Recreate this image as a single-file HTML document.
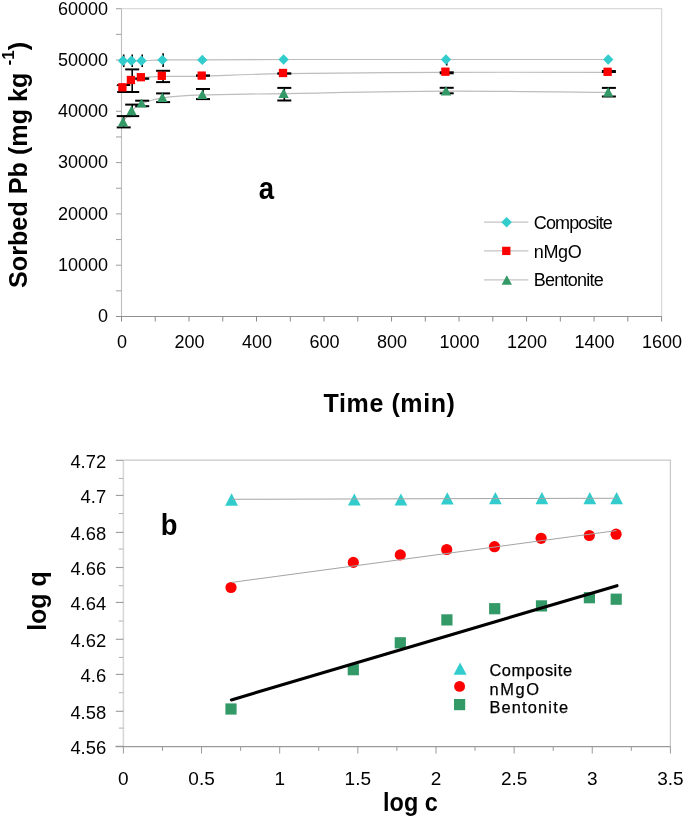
<!DOCTYPE html>
<html><head><meta charset="utf-8"><title>Sorption charts</title>
<style>
html,body{margin:0;padding:0;background:#fff;}
body{width:685px;height:818px;overflow:hidden;}
svg{display:block;}
text{font-family:"Liberation Sans", sans-serif;fill:#000;}
svg{will-change:transform;}
</style></head>
<body>
<svg width="685" height="818" viewBox="0 0 685 818" font-family='"Liberation Sans", sans-serif'>
<rect width="685" height="818" fill="#fff"/>
<path d="M121.5 8.7H661.6V316.5" fill="none" stroke="#d9d9d9" stroke-width="1.3"/>
<path d="M121.5 8.7V316.5" stroke="#bdbdbd" stroke-width="1.1"/>
<path d="M116 316.5H121.5" stroke="#a0a0a0" stroke-width="1"/>
<path d="M116 290.85H121.5" stroke="#a0a0a0" stroke-width="1"/>
<path d="M116 265.2H121.5" stroke="#a0a0a0" stroke-width="1"/>
<path d="M116 239.55H121.5" stroke="#a0a0a0" stroke-width="1"/>
<path d="M116 213.9H121.5" stroke="#a0a0a0" stroke-width="1"/>
<path d="M116 188.25H121.5" stroke="#a0a0a0" stroke-width="1"/>
<path d="M116 162.6H121.5" stroke="#a0a0a0" stroke-width="1"/>
<path d="M116 136.95H121.5" stroke="#a0a0a0" stroke-width="1"/>
<path d="M116 111.3H121.5" stroke="#a0a0a0" stroke-width="1"/>
<path d="M116 85.65H121.5" stroke="#a0a0a0" stroke-width="1"/>
<path d="M116 60H121.5" stroke="#a0a0a0" stroke-width="1"/>
<path d="M116 34.35H121.5" stroke="#a0a0a0" stroke-width="1"/>
<path d="M116 8.7H121.5" stroke="#a0a0a0" stroke-width="1"/>
<path d="M116 316.5H661.6" stroke="#909090" stroke-width="1"/>
<path d="M121.5 316.5V321.5" stroke="#8a8a8a" stroke-width="1"/>
<path d="M155.26 316.5V321.5" stroke="#8a8a8a" stroke-width="1"/>
<path d="M189.01 316.5V321.5" stroke="#8a8a8a" stroke-width="1"/>
<path d="M222.77 316.5V321.5" stroke="#8a8a8a" stroke-width="1"/>
<path d="M256.52 316.5V321.5" stroke="#8a8a8a" stroke-width="1"/>
<path d="M290.28 316.5V321.5" stroke="#8a8a8a" stroke-width="1"/>
<path d="M324.04 316.5V321.5" stroke="#8a8a8a" stroke-width="1"/>
<path d="M357.79 316.5V321.5" stroke="#8a8a8a" stroke-width="1"/>
<path d="M391.55 316.5V321.5" stroke="#8a8a8a" stroke-width="1"/>
<path d="M425.31 316.5V321.5" stroke="#8a8a8a" stroke-width="1"/>
<path d="M459.06 316.5V321.5" stroke="#8a8a8a" stroke-width="1"/>
<path d="M492.82 316.5V321.5" stroke="#8a8a8a" stroke-width="1"/>
<path d="M526.58 316.5V321.5" stroke="#8a8a8a" stroke-width="1"/>
<path d="M560.33 316.5V321.5" stroke="#8a8a8a" stroke-width="1"/>
<path d="M594.09 316.5V321.5" stroke="#8a8a8a" stroke-width="1"/>
<path d="M627.84 316.5V321.5" stroke="#8a8a8a" stroke-width="1"/>
<path d="M661.6 316.5V321.5" stroke="#8a8a8a" stroke-width="1"/>
<text x="108" y="322.3" font-size="18" text-anchor="end">0</text>
<text x="108" y="271" font-size="18" text-anchor="end">10000</text>
<text x="108" y="219.7" font-size="18" text-anchor="end">20000</text>
<text x="108" y="168.4" font-size="18" text-anchor="end">30000</text>
<text x="108" y="117.1" font-size="18" text-anchor="end">40000</text>
<text x="108" y="65.8" font-size="18" text-anchor="end">50000</text>
<text x="108" y="14.5" font-size="18" text-anchor="end">60000</text>
<text x="122" y="348.3" font-size="18" text-anchor="middle">0</text>
<text x="189.51" y="348.3" font-size="18" text-anchor="middle">200</text>
<text x="257.02" y="348.3" font-size="18" text-anchor="middle">400</text>
<text x="324.54" y="348.3" font-size="18" text-anchor="middle">600</text>
<text x="392.05" y="348.3" font-size="18" text-anchor="middle">800</text>
<text x="459.56" y="348.3" font-size="18" text-anchor="middle">1000</text>
<text x="527.08" y="348.3" font-size="18" text-anchor="middle">1200</text>
<text x="594.59" y="348.3" font-size="18" text-anchor="middle">1400</text>
<text x="662.1" y="348.3" font-size="18" text-anchor="middle">1600</text>
<text x="323.6" y="412" font-size="25" font-weight="bold" letter-spacing="0.6">Time (min)</text>
<text transform="translate(27.2 288) rotate(-90)" font-size="25.2" font-weight="bold">Sorbed Pb (mg kg <tspan font-size="17" dy="-13.5">-1</tspan><tspan dy="13.5">)</tspan></text>
<text transform="translate(258.7 199) scale(0.9 1)" font-size="30.6" font-weight="bold">a</text>
<path d="M123 60.8C124.42 60.8 128.42 60.8 131.5 60.8C134.58 60.8 136.35 60.95 141.5 60.8C146.65 60.65 152.27 60.05 162.4 59.9C172.53 59.75 182.1 59.97 202.3 59.9C222.5 59.83 242.98 59.57 283.6 59.5C324.22 59.43 391.9 59.5 446 59.5C500.1 59.5 581.17 59.5 608.2 59.5" fill="none" stroke="#bdbdbd" stroke-width="1.2"/>
<path d="M123 87.9C124.42 86.68 128.42 82.28 131.5 80.6C134.58 78.92 136.35 78.5 141.5 77.8C146.65 77.1 152.27 76.67 162.4 76.4C172.53 76.13 182.1 76.67 202.3 76.2C222.5 75.73 242.98 74.25 283.6 73.6C324.22 72.95 391.9 72.5 446 72.3C500.1 72.1 581.17 72.38 608.2 72.4" fill="none" stroke="#bdbdbd" stroke-width="1.2"/>
<path d="M123 122.1C124.42 120.22 128.42 113.88 131.5 110.8C134.58 107.73 136.35 105.82 141.5 103.65C146.65 101.48 152.27 99.26 162.4 97.8C172.53 96.34 182.1 95.6 202.3 94.9C222.5 94.2 242.98 94.22 283.6 93.6C324.22 92.98 391.9 91.39 446 91.2C500.1 91.01 581.17 92.24 608.2 92.45" fill="none" stroke="#bdbdbd" stroke-width="1.2"/>
<path d="M123.7 54.5V67" stroke="#000" stroke-width="1.6"/>
<path d="M132.2 54.5V67" stroke="#000" stroke-width="1.6"/>
<path d="M142.2 54.5V67" stroke="#000" stroke-width="1.6"/>
<path d="M163.1 53.3V67" stroke="#000" stroke-width="1.6"/>
<path d="M446.7 59V65.5" stroke="#000" stroke-width="1.6"/>
<path d="M117.2 85H130.2" stroke="#000" stroke-width="2"/>
<path d="M117.2 92H130.2" stroke="#000" stroke-width="2"/>
<path d="M123.7 85V92" stroke="#000" stroke-width="1.6"/>
<path d="M125.2 69.4H139.2" stroke="#000" stroke-width="2"/>
<path d="M125.2 92H139.2" stroke="#000" stroke-width="2"/>
<path d="M132.2 69.4V92" stroke="#000" stroke-width="1.6"/>
<path d="M135.2 78.6H149.2" stroke="#000" stroke-width="2.4"/>
<path d="M156.1 70.8H170.1" stroke="#000" stroke-width="2"/>
<path d="M156.1 82.1H170.1" stroke="#000" stroke-width="2"/>
<path d="M163.1 70.8V82.1" stroke="#000" stroke-width="1.6"/>
<path d="M196 75.6H210" stroke="#000" stroke-width="2.4"/>
<path d="M277.3 73.5H291.3" stroke="#000" stroke-width="2.4"/>
<path d="M439.7 72.8H453.7" stroke="#000" stroke-width="3"/>
<path d="M601.9 71.5H615.9" stroke="#000" stroke-width="3"/>
<path d="M116.7 116.1H130.7" stroke="#000" stroke-width="2"/>
<path d="M116.7 127.4H130.7" stroke="#000" stroke-width="2"/>
<path d="M123.7 116.1V127.4" stroke="#000" stroke-width="1.6"/>
<path d="M125.2 104.6H139.2" stroke="#000" stroke-width="2"/>
<path d="M125.2 116.1H139.2" stroke="#000" stroke-width="2"/>
<path d="M132.2 104.6V116.1" stroke="#000" stroke-width="1.6"/>
<path d="M135.2 100.7H149.2" stroke="#000" stroke-width="2"/>
<path d="M135.2 106.2H149.2" stroke="#000" stroke-width="2"/>
<path d="M142.2 100.7V106.2" stroke="#000" stroke-width="1.6"/>
<path d="M156.1 93.4H170.1" stroke="#000" stroke-width="2"/>
<path d="M156.1 102.1H170.1" stroke="#000" stroke-width="2"/>
<path d="M163.1 93.4V102.1" stroke="#000" stroke-width="1.6"/>
<path d="M196 89H210" stroke="#000" stroke-width="2"/>
<path d="M196 99.1H210" stroke="#000" stroke-width="2"/>
<path d="M203 89V99.1" stroke="#000" stroke-width="1.6"/>
<path d="M277.3 87.9H291.3" stroke="#000" stroke-width="2"/>
<path d="M277.3 100.5H291.3" stroke="#000" stroke-width="2"/>
<path d="M284.3 87.9V100.5" stroke="#000" stroke-width="1.6"/>
<path d="M439.7 87.8H453.7" stroke="#000" stroke-width="2"/>
<path d="M439.7 93.3H453.7" stroke="#000" stroke-width="2"/>
<path d="M446.7 87.8V93.3" stroke="#000" stroke-width="1.6"/>
<path d="M601.9 87.9H615.9" stroke="#000" stroke-width="2"/>
<path d="M601.9 96.5H615.9" stroke="#000" stroke-width="2"/>
<path d="M608.9 87.9V96.5" stroke="#000" stroke-width="1.6"/>
<path d="M123 55.6L128.2 60.8L123 66L117.8 60.8Z" fill="#33cccc"/>
<path d="M131.5 55.6L136.7 60.8L131.5 66L126.3 60.8Z" fill="#33cccc"/>
<path d="M141.5 55.6L146.7 60.8L141.5 66L136.3 60.8Z" fill="#33cccc"/>
<path d="M162.4 54.7L167.6 59.9L162.4 65.1L157.2 59.9Z" fill="#33cccc"/>
<path d="M202.3 54.7L207.5 59.9L202.3 65.1L197.1 59.9Z" fill="#33cccc"/>
<path d="M283.6 54.3L288.8 59.5L283.6 64.7L278.4 59.5Z" fill="#33cccc"/>
<path d="M446 54.3L451.2 59.5L446 64.7L440.8 59.5Z" fill="#33cccc"/>
<path d="M608.2 54.3L613.4 59.5L608.2 64.7L603 59.5Z" fill="#33cccc"/>
<rect x="118.25" y="83.15" width="8.3" height="8.3" fill="#ff0000"/>
<rect x="126.75" y="75.85" width="8.3" height="8.3" fill="#ff0000"/>
<rect x="136.75" y="73.05" width="8.3" height="8.3" fill="#ff0000"/>
<rect x="157.65" y="71.65" width="8.3" height="8.3" fill="#ff0000"/>
<rect x="197.55" y="71.45" width="8.3" height="8.3" fill="#ff0000"/>
<rect x="278.85" y="68.85" width="8.3" height="8.3" fill="#ff0000"/>
<rect x="441.25" y="67.55" width="8.3" height="8.3" fill="#ff0000"/>
<rect x="603.45" y="67.65" width="8.3" height="8.3" fill="#ff0000"/>
<path d="M123 116.7L128.15 126.5L117.85 126.5Z" fill="#339966"/>
<path d="M131.5 105.4L136.65 115.2L126.35 115.2Z" fill="#339966"/>
<path d="M141.5 98.7L146.65 107.6L136.35 107.6Z" fill="#339966"/>
<path d="M162.4 92.5L167.55 102.1L157.25 102.1Z" fill="#339966"/>
<path d="M202.3 89.7L207.45 99.1L197.15 99.1Z" fill="#339966"/>
<path d="M283.6 88.3L288.75 97.9L278.45 97.9Z" fill="#339966"/>
<path d="M446 85.9L451.15 95.5L440.85 95.5Z" fill="#339966"/>
<path d="M608.2 87.1L613.35 96.8L603.05 96.8Z" fill="#339966"/>
<path d="M484 222.2H528.4" stroke="#c4c4c4" stroke-width="1.2"/>
<path d="M484 250.9H528.4" stroke="#c4c4c4" stroke-width="1.2"/>
<path d="M484 279.9H528.4" stroke="#c4c4c4" stroke-width="1.2"/>
<path d="M506.6 216.9L511.9 222.2L506.6 227.5L501.3 222.2Z" fill="#33cccc"/>
<rect x="502.15" y="246.75" width="8.3" height="8.3" fill="#ff0000"/>
<path d="M506.8 275.2L511.95 284.7L501.65 284.7Z" fill="#339966"/>
<text x="533.8" y="229" font-size="18" textLength="79" lengthAdjust="spacing">Composite</text>
<text x="533.8" y="258.3" font-size="18" textLength="48" lengthAdjust="spacing">nMgO</text>
<text x="533.8" y="286.1" font-size="18" textLength="70" lengthAdjust="spacing">Bentonite</text>
<path d="M123.4 460.2H670.4V746.6" fill="none" stroke="#c9c9c9" stroke-width="1.3"/>
<path d="M123.4 460.2V746.6" stroke="#d6d6d6" stroke-width="1.5"/>
<path d="M115.8 746.3H123.4" stroke="#9a9a9a" stroke-width="1.1"/>
<path d="M115.8 711.3H123.4" stroke="#9a9a9a" stroke-width="1.1"/>
<path d="M115.8 674.4H123.4" stroke="#9a9a9a" stroke-width="1.1"/>
<path d="M115.8 639.3H123.4" stroke="#9a9a9a" stroke-width="1.1"/>
<path d="M115.8 602.45H123.4" stroke="#9a9a9a" stroke-width="1.1"/>
<path d="M115.8 567.5H123.4" stroke="#9a9a9a" stroke-width="1.1"/>
<path d="M115.8 532.4H123.4" stroke="#9a9a9a" stroke-width="1.1"/>
<path d="M115.8 495.4H123.4" stroke="#9a9a9a" stroke-width="1.1"/>
<path d="M115.8 460.3H123.4" stroke="#9a9a9a" stroke-width="1.1"/>
<path d="M118.8 728.1H123.4" stroke="#b0b0b0" stroke-width="1"/>
<path d="M118.8 692.7H123.4" stroke="#b0b0b0" stroke-width="1"/>
<path d="M118.8 657.4H123.4" stroke="#b0b0b0" stroke-width="1"/>
<path d="M118.8 621H123.4" stroke="#b0b0b0" stroke-width="1"/>
<path d="M118.8 585.7H123.4" stroke="#b0b0b0" stroke-width="1"/>
<path d="M118.8 549H123.4" stroke="#b0b0b0" stroke-width="1"/>
<path d="M118.8 513.6H123.4" stroke="#b0b0b0" stroke-width="1"/>
<path d="M118.8 478.4H123.4" stroke="#b0b0b0" stroke-width="1"/>
<path d="M115.6 746.6H670.4" stroke="#9a9a9a" stroke-width="1.2"/>
<path d="M123.4 746.6V753.6" stroke="#9a9a9a" stroke-width="1"/>
<path d="M162.47 746.6V750.9" stroke="#9a9a9a" stroke-width="1"/>
<path d="M201.54 746.6V753.6" stroke="#9a9a9a" stroke-width="1"/>
<path d="M240.61 746.6V750.9" stroke="#9a9a9a" stroke-width="1"/>
<path d="M279.69 746.6V753.6" stroke="#9a9a9a" stroke-width="1"/>
<path d="M318.76 746.6V750.9" stroke="#9a9a9a" stroke-width="1"/>
<path d="M357.83 746.6V753.6" stroke="#9a9a9a" stroke-width="1"/>
<path d="M396.9 746.6V750.9" stroke="#9a9a9a" stroke-width="1"/>
<path d="M435.97 746.6V753.6" stroke="#9a9a9a" stroke-width="1"/>
<path d="M475.04 746.6V750.9" stroke="#9a9a9a" stroke-width="1"/>
<path d="M514.11 746.6V753.6" stroke="#9a9a9a" stroke-width="1"/>
<path d="M553.19 746.6V750.9" stroke="#9a9a9a" stroke-width="1"/>
<path d="M592.26 746.6V753.6" stroke="#9a9a9a" stroke-width="1"/>
<path d="M631.33 746.6V750.9" stroke="#9a9a9a" stroke-width="1"/>
<path d="M670.4 746.6V753.6" stroke="#9a9a9a" stroke-width="1"/>
<text x="106.2" y="753.7" font-size="18.4" text-anchor="end">4.56</text>
<text x="106.2" y="718.7" font-size="18.4" text-anchor="end">4.58</text>
<text x="106.2" y="681.8" font-size="18.4" text-anchor="end">4.6</text>
<text x="106.2" y="646.7" font-size="18.4" text-anchor="end">4.62</text>
<text x="106.2" y="609.85" font-size="18.4" text-anchor="end">4.64</text>
<text x="106.2" y="574.9" font-size="18.4" text-anchor="end">4.66</text>
<text x="106.2" y="539.8" font-size="18.4" text-anchor="end">4.68</text>
<text x="106.2" y="502.8" font-size="18.4" text-anchor="end">4.7</text>
<text x="106.2" y="467.7" font-size="18.4" text-anchor="end">4.72</text>
<text x="123.4" y="784.6" font-size="19" text-anchor="middle">0</text>
<text x="201.54" y="784.6" font-size="19" text-anchor="middle">0.5</text>
<text x="279.69" y="784.6" font-size="19" text-anchor="middle">1</text>
<text x="357.83" y="784.6" font-size="19" text-anchor="middle">1.5</text>
<text x="435.97" y="784.6" font-size="19" text-anchor="middle">2</text>
<text x="514.11" y="784.6" font-size="19" text-anchor="middle">2.5</text>
<text x="592.26" y="784.6" font-size="19" text-anchor="middle">3</text>
<text x="670.4" y="784.6" font-size="19" text-anchor="middle">3.5</text>
<text transform="translate(410.4 811) scale(0.9375 1)" font-size="25" font-weight="bold" text-anchor="middle">log c</text>
<text transform="translate(45.8 601) rotate(-90)" font-size="25" font-weight="bold" text-anchor="middle">log q</text>
<text transform="translate(160.8 535.2) scale(0.913 1)" font-size="30" font-weight="bold">b</text>
<path d="M231.6 493.2L238 505.7L225.2 505.7Z" fill="#33cccc"/>
<path d="M354.3 493.6L360.7 505.4L347.9 505.4Z" fill="#33cccc"/>
<path d="M400.9 493.6L407.3 505.4L394.5 505.4Z" fill="#33cccc"/>
<path d="M447.3 492.2L453.7 504.4L440.9 504.4Z" fill="#33cccc"/>
<path d="M495.4 492L501.8 504.2L489 504.2Z" fill="#33cccc"/>
<path d="M541.9 492L548.3 504.2L535.5 504.2Z" fill="#33cccc"/>
<path d="M589.8 492L596.2 504.2L583.4 504.2Z" fill="#33cccc"/>
<path d="M616.6 492L623 504.2L610.2 504.2Z" fill="#33cccc"/>
<path d="M232 499.3L616.6 498.2" stroke="#a4a4a4" stroke-width="1.1"/>
<circle cx="231" cy="587.5" r="5.6" fill="#ff0000"/>
<circle cx="353.3" cy="562.4" r="5.6" fill="#ff0000"/>
<circle cx="400.3" cy="554.9" r="5.6" fill="#ff0000"/>
<circle cx="446.7" cy="549.5" r="5.6" fill="#ff0000"/>
<circle cx="494.5" cy="546.7" r="5.6" fill="#ff0000"/>
<circle cx="541.1" cy="538.3" r="5.6" fill="#ff0000"/>
<circle cx="589.3" cy="535.5" r="5.6" fill="#ff0000"/>
<circle cx="616.1" cy="534.2" r="5.6" fill="#ff0000"/>
<path d="M231.7 582.4L616.5 530.6" stroke="#a4a4a4" stroke-width="1"/>
<rect x="225.4" y="703.4" width="11.2" height="11.2" fill="#339966"/>
<rect x="347.7" y="664.1" width="11.2" height="11.2" fill="#339966"/>
<rect x="394.7" y="637.2" width="11.2" height="11.2" fill="#339966"/>
<rect x="441.3" y="614.3" width="11.2" height="11.2" fill="#339966"/>
<rect x="489.1" y="603.1" width="11.2" height="11.2" fill="#339966"/>
<rect x="535.9" y="600.3" width="11.2" height="11.2" fill="#339966"/>
<rect x="583.8" y="592.1" width="11.2" height="11.2" fill="#339966"/>
<rect x="610.6" y="593.6" width="11.2" height="11.2" fill="#339966"/>
<path d="M231.4 699.9L617 585.7" stroke="#000" stroke-width="3.1" stroke-linecap="round"/>
<path d="M460.1 662.6L466.6 674.8L453.6 674.8Z" fill="#33cccc"/>
<circle cx="459.6" cy="686.4" r="5.45" fill="#ff0000"/>
<rect x="454" y="699" width="11.2" height="11.2" fill="#339966"/>
<text x="489.4" y="675.8" font-size="16.4" stroke="#000" stroke-width="0.25" textLength="82.6" lengthAdjust="spacing">Composite</text>
<text x="489.4" y="694.7" font-size="16.4" stroke="#000" stroke-width="0.25" textLength="49.5" lengthAdjust="spacing">nMgO</text>
<text x="489.4" y="712.6" font-size="16.4" stroke="#000" stroke-width="0.25" textLength="78.6" lengthAdjust="spacing">Bentonite</text>
</svg>
</body></html>
